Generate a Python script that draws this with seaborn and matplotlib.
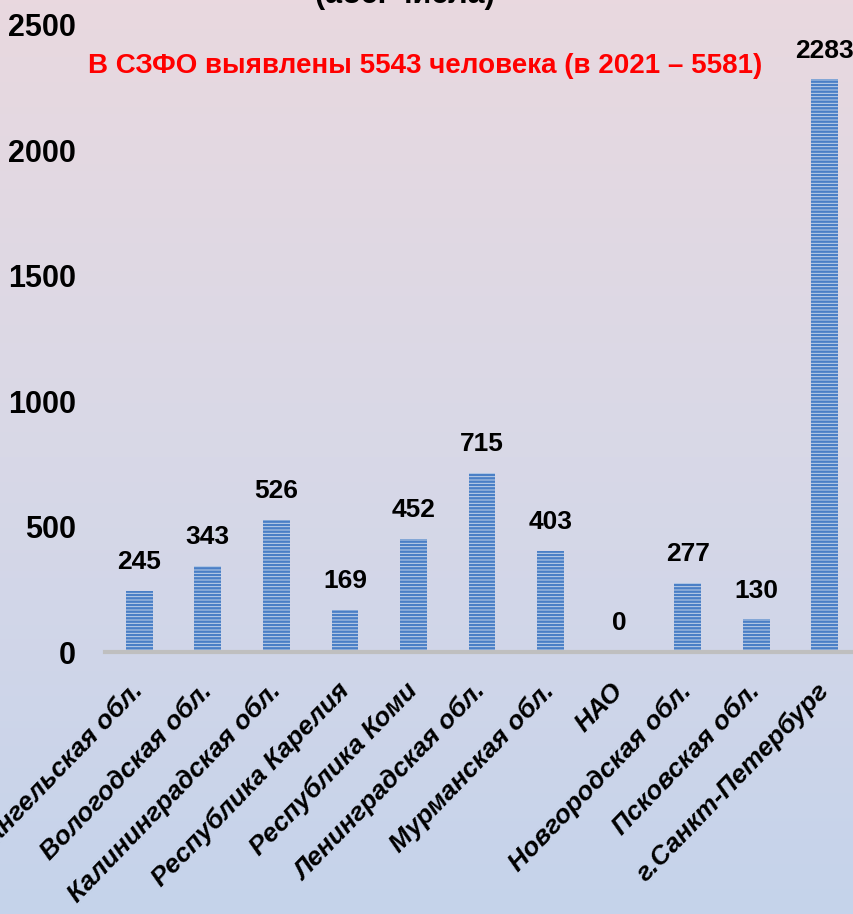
import numpy as np
import seaborn as sns
from matplotlib import pyplot as plt
from matplotlib import font_manager
from matplotlib.colors import LinearSegmentedColormap

# Data
regions = ['Архангельская обл.', 'Вологодская обл.', 'Калининградская обл.',
           'Республика Карелия', 'Республика Коми', 'Ленинградская обл.',
           'Мурманская обл.', 'НАО', 'Новгородская обл.', 'Псковская обл.',
           'г.Санкт-Петербург']
values = [245, 343, 526, 169, 452, 715, 403, 0, 277, 130, 2283]
y_ticks = [0, 500, 1000, 1500, 2000, 2500]

title_tail = '(абс. числа)'
note = 'В СЗФО выявлены 5543 человека (в 2021 – 5581)'

sns.set_theme(style='white')
plt.rcParams['font.family'] = ['Liberation Sans', 'DejaVu Sans']
plt.rcParams['text.color'] = 'black'
plt.rcParams['xtick.color'] = 'black'
plt.rcParams['ytick.color'] = 'black'
plt.rcParams['hatch.linewidth'] = 1.75

# narrow font for the red note, if there is one
installed = {f.name for f in font_manager.fontManager.ttflist}
note_family = 'Liberation Sans Narrow' if 'Liberation Sans Narrow' in installed else 'Liberation Sans'

fig = plt.figure(figsize=(8.54, 9.14), dpi=100)

# gradient background: pinkish at top, bluish at bottom
bg = fig.add_axes([0, 0, 1, 1], zorder=-1)
grad_cmap = LinearSegmentedColormap.from_list('bg', ['#c5d3eb', '#d8d8e7', '#e9d8df'])
bg.imshow(np.linspace(0, 1, 256).reshape(-1, 1)[::-1], aspect='auto', cmap=grad_cmap,
          extent=[0, 1, 0, 1])
bg.axis('off')

ax = fig.add_axes([105 / 854, 262 / 914, 754 / 854, 627 / 914])
ax.set_facecolor('none')

sns.barplot(x=regions, y=values, ax=ax, width=0.39, color='#c6d8f0')
for bar in ax.patches:
    bar.set_hatch('-----')
    bar.set_edgecolor('#4a7fc6')
    bar.set_linewidth(0)

ax.bar_label(ax.containers[0], padding=12, fontsize=19, fontweight='bold')

ax.set_ylim(0, 2500)
ax.set_yticks(y_ticks)
ax.set_yticklabels([str(t) for t in y_ticks], fontsize=22, fontweight='bold')
ax.set_xticks(range(len(regions)))
ax.set_xticklabels(regions, rotation=46, ha='right', va='center', rotation_mode='anchor',
                   fontsize=19, fontweight='bold', fontstyle='italic')
ax.tick_params(axis='y', length=0, pad=21)
ax.tick_params(axis='x', length=0, pad=25)
ax.set_xlabel('')
ax.set_ylabel('')

sns.despine(ax=ax, left=True)
ax.spines['bottom'].set_color('#bfbfbf')
ax.spines['bottom'].set_linewidth(3)

# title is cut off by the top edge in the reference
fig.text(405 / 854, 1 - 3 / 914, title_tail, ha='center', va='baseline',
         fontsize=22, fontweight='bold')
fig.text(425 / 854, 1 - 66 / 914, note, ha='center', va='center',
         fontsize=20, fontweight='bold', color='#ff0000', family=note_family)

fig.savefig('out.png', dpi=100)
